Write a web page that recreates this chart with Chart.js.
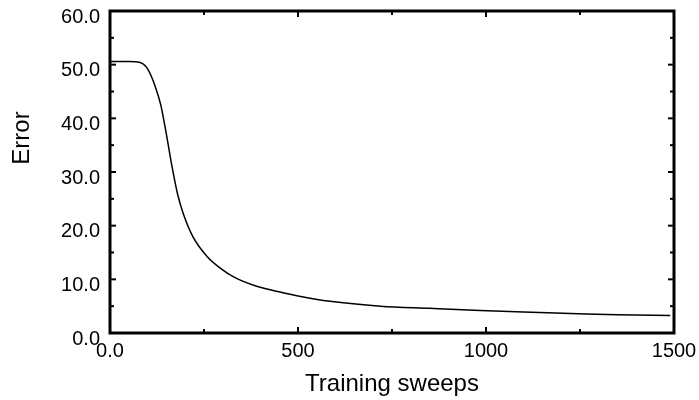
<!DOCTYPE html>
<html>
<head>
<meta charset="utf-8">
<script src="https://cdn.jsdelivr.net/npm/chart.js@4/dist/chart.umd.min.js"></script>
<style>
  html, body { margin: 0; padding: 0; background: #fff; }
  #wrap { width: 699px; height: 400px; }
</style>
</head>
<body>
<div id="wrap"><canvas id="errChart"></canvas></div>
<script>
// data
const sweeps = [0, 50, 80, 100, 120, 135, 150, 165, 180, 195, 220, 260, 295, 330, 390, 460, 500, 585, 720, 850, 985, 1100, 1225, 1350, 1490];
const errors = [50.6, 50.6, 50.4, 49.2, 46.0, 42.5, 37.0, 31.0, 25.8, 22.2, 18.0, 14.1, 12.0, 10.4, 8.7, 7.5, 6.9, 5.9, 5.0, 4.6, 4.2, 3.9, 3.65, 3.4, 3.25];

// ticks
const xTicks = [0, 500, 1000, 1500];
const xMinor = [250, 750, 1250];
const yTicks = [0, 10, 20, 30, 40, 50, 60];
const yMinor = [5, 15, 25, 35, 45, 55];
const xTitle = "Training sweeps";
const yTitle = "Error";

const points = [];
for (let i = 0; i < sweeps.length; i++) {
  points.push({ x: sweeps[i], y: errors[i] });
}

// frame + inward ticks on all four sides, y title
const framePlugin = {
  id: 'frame',
  afterDraw(chart) {
    const ctx = chart.ctx;
    const a = chart.chartArea;
    const xs = chart.scales.x, ys = chart.scales.y;
    ctx.save();
    ctx.strokeStyle = '#000';
    ctx.lineWidth = 2;
    const tick = (x1, y1, x2, y2) => {
      ctx.beginPath(); ctx.moveTo(x1, y1); ctx.lineTo(x2, y2); ctx.stroke();
    };
    for (const v of xTicks) {
      const px = xs.getPixelForValue(v);
      tick(px, a.bottom, px, a.bottom - 6);
      tick(px, a.top, px, a.top + 6);
    }
    for (const v of xMinor) {
      const px = xs.getPixelForValue(v);
      tick(px, a.bottom, px, a.bottom - 4);
      tick(px, a.top, px, a.top + 4);
    }
    for (const v of yTicks) {
      const py = ys.getPixelForValue(v);
      tick(a.left, py, a.left + 6, py);
      tick(a.right, py, a.right - 6, py);
    }
    for (const v of yMinor) {
      const py = ys.getPixelForValue(v);
      tick(a.left, py, a.left + 4, py);
      tick(a.right, py, a.right - 4, py);
    }
    ctx.lineWidth = 3;
    ctx.strokeRect(a.left, a.top, a.right - a.left, a.bottom - a.top);

    // y axis title, sits above the middle like the original
    ctx.translate(22, 138);
    ctx.rotate(-Math.PI / 2);
    ctx.fillStyle = '#000';
    ctx.font = '24px "Liberation Sans", Arial, sans-serif';
    ctx.textAlign = 'center';
    ctx.textBaseline = 'middle';
    ctx.fillText(yTitle, 0, 0);
    ctx.restore();
  }
};

new Chart(document.getElementById('errChart'), {
  type: 'line',
  data: {
    datasets: [{
      label: yTitle,
      data: points,
      borderColor: '#000',
      borderWidth: 1.5,
      pointRadius: 0,
      fill: false,
      cubicInterpolationMode: 'monotone'
    }]
  },
  options: {
    responsive: true,
    maintainAspectRatio: false,
    animation: false,
    layout: { padding: { top: 11, right: 25, left: 0, bottom: 0 } },
    plugins: { legend: { display: false }, tooltip: { enabled: false } },
    scales: {
      x: {
        type: 'linear',
        min: 0, max: 1500,
        // fixed height, no extra side padding for the end labels
        afterFit: s => { s.height = 67; s.paddingLeft = 0; s.paddingRight = 0; },
        afterBuildTicks: s => { s.ticks = xTicks.map(v => ({ value: v })); },
        grid: { display: false, drawTicks: false },
        border: { display: false },
        ticks: {
          padding: 6,
          color: '#000',
          font: { family: '"Liberation Sans", Arial, sans-serif', size: 20 },
          maxRotation: 0,
          callback: v => v === 0 ? '0.0' : String(v)
        },
        title: {
          display: true,
          text: xTitle,
          color: '#000',
          padding: { top: 0, bottom: 1 },
          font: { family: '"Liberation Sans", Arial, sans-serif', size: 24 }
        }
      },
      y: {
        min: 0, max: 60,
        afterFit: s => { s.width = 110; s.paddingTop = 0; s.paddingBottom = 0; },
        afterBuildTicks: s => { s.ticks = yTicks.map(v => ({ value: v })); },
        grid: { display: false, drawTicks: false },
        border: { display: false },
        ticks: {
          padding: 10,
          labelOffset: 6,
          color: '#000',
          font: { family: '"Liberation Sans", Arial, sans-serif', size: 20 },
          callback: v => v.toFixed(1)
        }
      }
    }
  },
  plugins: [framePlugin]
});
</script>
</body>
</html>
